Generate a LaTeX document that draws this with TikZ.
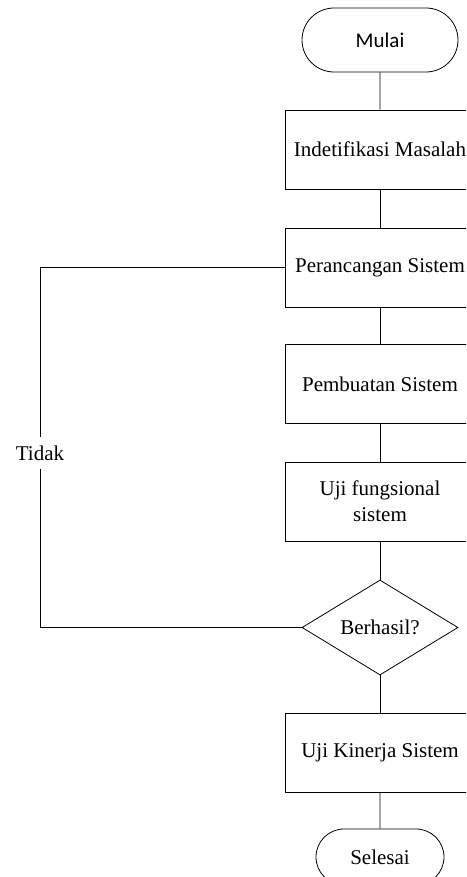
\documentclass[tikz,border=0pt]{standalone}
\usepackage{fontspec}
\setmainfont{Liberation Serif}
\newfontfamily\calibrifont{Carlito}
\usetikzlibrary{shapes.misc,shapes.geometric}

\tikzset{
  every node/.style={font=\fontsize{21}{26}\selectfont},
  flowbox/.style={rectangle, draw, line width=0.8pt, minimum width=190pt, minimum height=79pt, inner sep=0pt, align=center},
  terminal/.style={rounded rectangle, draw, line width=0.8pt, inner sep=0pt},
  decision/.style={diamond, draw, line width=0.8pt, minimum width=156pt, minimum height=95pt, inner sep=0pt},
  link/.style={line width=0.8pt}
}

\begin{document}
\begin{tikzpicture}[x=1pt,y=-1pt]
      % Variables
      \def \colx  {380}
      \def \loopx {40}

      % Frame
      \clip (0,0) rectangle (466,877);

      % Terminals
      \node[terminal, minimum width=156pt, minimum height=64pt] (mulai) at (\colx,40) {\calibrifont Mulai};
      \node[terminal, minimum width=128pt, minimum height=56pt] (selesai) at (\colx,857) {Selesai};

      % Rectangles
      \node[flowbox] (identifikasi) at (\colx,149.5) {Indetifikasi Masalah};
      \node[flowbox] (perancangan) at (\colx,267.5) {Perancangan Sistem};
      \node[flowbox] (pembuatan) at (\colx,384) {Pembuatan Sistem};
      \node[flowbox] (ujifungsi) at (\colx,501.5) {Uji fungsional\\sistem};
      \node[decision] (berhasil) at (\colx,627.5) {Berhasil?};
      \node[flowbox] (ujikinerja) at (\colx,752.5) {Uji Kinerja Sistem};

      % Label on the loop
      \node[inner sep=1pt, minimum height=32pt] (tidak) at (\loopx,453) {Tidak};

      % Lines
      \draw[link] (mulai) -- (identifikasi);
      \draw[link] (identifikasi) -- (perancangan);
      \draw[link] (perancangan) -- (pembuatan);
      \draw[link] (pembuatan) -- (ujifungsi);
      \draw[link] (ujifungsi) -- (berhasil);
      \draw[link] (berhasil) -- (ujikinerja);
      \draw[link] (ujikinerja) -- (selesai);

      % Loop back
      \draw[link] (berhasil.west) -- (\loopx,627.5) -- (tidak.south);
      \draw[link] (tidak.north) -- (\loopx,267.5) -- (perancangan.west);
\end{tikzpicture}
\end{document}
